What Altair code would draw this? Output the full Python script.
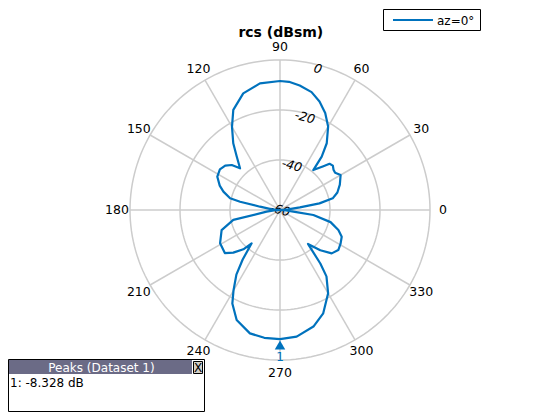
import math
import altair as alt
import pandas as pd

# ---- data ----
angle_deg = [0, 4, 7.5, 9.5, 12.5, 17, 23, 30, 34, 37, 40, 43, 45.5, 50.2, 52, 55, 60, 65, 70, 75, 81, 86, 90,
             99, 107.5, 115, 120, 125, 129, 133.8, 137, 141, 146, 152, 158, 162, 166.8, 168.3, 170.6, 175, 180,
             184, 187, 192, 199, 209, 218, 222.4, 227, 229.6, 233, 236, 240, 243, 248.5, 256.3, 263, 270,
             277.5, 286, 292.7, 300, 305, 307, 309.5, 315, 320, 325.5, 331, 336.6, 341, 346.5, 351.5, 353, 356, 360]
rcs_dbsm = [-60, -56.8, -52, -44, -38.4, -36, -34, -32, -33.4, -33.2, -32.4, -32.9, -35.6, -39.2, -32.9, -27.4,
            -21.5, -17.2, -13.8, -11.2, -9.6, -8.6, -8.4,
            -8.7, -11.1, -15.8, -21.6, -27.4, -32.5, -36.9, -33.6, -31.8, -31, -31.6, -34, -36.2, -39.5, -43.7,
            -51.9, -56.8, -60,
            -57.6, -54.6, -40.9, -35.3, -32.6, -32, -34.7, -38.5, -42.5, -35.2, -28.8, -22.8, -18, -12.7, -9.2,
            -8.5, -8.328,
            -8.9, -11.5, -15.2, -21.5, -27.6, -33.2, -42.4, -37.2, -33, -31.7, -32.3, -33.1, -35.3, -39.2, -46.5,
            -54.6, -57.6, -60]
ring_db = [0, -20, -40, -60]
spoke_deg = [0, 30, 60, 90, 120, 150, 180, 210, 240, 270, 300, 330]
series_name = "az=0°"
title_text = "rcs (dBsm)"
peaks_title = "Peaks (Dataset 1)"

# ---- layout ----
W, H = 544, 404
PX = 2.5            # pixels per dB
CX, CY = 272, 202   # polar centre in chart pixels
RMIN, RMAX = -60, 0
BLUE = "#0072BD"
GRID = "#cccccc"
FONT = "DejaVu Sans"

xs = alt.Scale(domain=[-CX / PX, (W - CX) / PX], nice=False, zero=False)
ys = alt.Scale(domain=[-(H - CY) / PX, CY / PX], nice=False, zero=False)

df = pd.DataFrame({"angle": angle_deg, "rcs": rcs_dbsm, "series": series_name})
rings_df = pd.DataFrame({"ring": ring_db})
spokes_df = pd.DataFrame({"a": spoke_deg, "lab": [str(a) for a in spoke_deg]})
one = pd.DataFrame({"k": [0]})

pk = max(range(len(rcs_dbsm)), key=lambda i: rcs_dbsm[i])
peak_df = pd.DataFrame({"angle": [angle_deg[pk]], "rcs": [rcs_dbsm[pk]]})
peak_text = f"1: {rcs_dbsm[pk]:.3f} dB"

X = lambda f: alt.X(f, scale=xs, axis=None)
Y = lambda f: alt.Y(f, scale=ys, axis=None)

rings = alt.Chart(rings_df).transform_calculate(
    u=f"datum.ring - ({RMIN})", a="sequence(0, 362, 2)"
).transform_filter("datum.u > 0").transform_flatten(["a"]).transform_calculate(
    x="datum.u*cos(datum.a*PI/180)", y="datum.u*sin(datum.a*PI/180)"
).mark_line(color=GRID, strokeWidth=1.5).encode(
    x=X("x:Q"), y=Y("y:Q"), order="a:Q", detail="ring:N"
)

spokes = alt.Chart(spokes_df).transform_calculate(
    x0="0", y0="0",
    x1=f"{RMAX - RMIN}*cos(datum.a*PI/180)", y1=f"{RMAX - RMIN}*sin(datum.a*PI/180)"
).mark_rule(color=GRID, strokeWidth=1.5).encode(
    x=X("x0:Q"), y=Y("y0:Q"), x2="x1:Q", y2="y1:Q"
)

spoke_labels = alt.Chart(spokes_df).transform_calculate(
    x=f"{(RMAX - RMIN) + 5.2}*cos(datum.a*PI/180)", y=f"{(RMAX - RMIN) + 5.2}*sin(datum.a*PI/180)"
).mark_text(font=FONT, fontSize=12.5, color="black", baseline="middle", align="center").encode(
    x=X("x:Q"), y=Y("y:Q"), text="lab:N"
)

ring_labels = alt.Chart(rings_df).transform_calculate(
    u=f"max(datum.ring - ({RMIN}) - 1.6, 0)",
    x="datum.u*cos(75*PI/180)", y="datum.u*sin(75*PI/180)", lab="toString(datum.ring)"
).mark_text(font=FONT, fontSize=12.5, fontStyle="italic", color="black", angle=15,
            baseline="middle", align="center").encode(
    x=X("x:Q"), y=Y("y:Q"), text="lab:N"
)

line = alt.Chart(df).transform_calculate(
    u=f"max(datum.rcs - ({RMIN}), 0)",
    x="datum.u*cos(datum.angle*PI/180)", y="datum.u*sin(datum.angle*PI/180)"
).mark_line(strokeWidth=2.2, color=BLUE, strokeJoin="round").encode(
    x=X("x:Q"), y=Y("y:Q"), order="angle:Q"
)

marker = alt.Chart(peak_df).transform_calculate(
    u=f"datum.rcs - ({RMIN}) + 2.3", x="datum.u*cos(datum.angle*PI/180)", y="datum.u*sin(datum.angle*PI/180)"
).mark_point(shape="triangle-up", filled=True, color=BLUE, size=110, opacity=1).encode(
    x=X("x:Q"), y=Y("y:Q")
)
marker_lab = alt.Chart(peak_df).transform_calculate(
    u=f"datum.rcs - ({RMIN}) + 7.2", x="datum.u*cos(datum.angle*PI/180)", y="datum.u*sin(datum.angle*PI/180)"
).mark_text(font=FONT, fontSize=12, color=BLUE, baseline="middle", align="center").encode(
    x=X("x:Q"), y=Y("y:Q"), text=alt.value("1")
)

title = alt.Chart(one).mark_text(font=FONT, fontSize=14, fontWeight="bold", color="black",
                                  baseline="middle", align="center").encode(
    x=alt.value(272.8), y=alt.value(25), text=alt.value(title_text))

# legend (top right)
leg_box = alt.Chart(one).mark_rect(fill="white", stroke="black", strokeWidth=1).encode(
    x=alt.value(375.5), x2=alt.value(472.5), y=alt.value(1.5), y2=alt.value(22.5))
leg_line = alt.Chart(df.head(1)).mark_rule(color=BLUE, strokeWidth=2).encode(
    x=alt.value(385), x2=alt.value(425), y=alt.value(12))
leg_text = alt.Chart(df.head(1)).mark_text(font=FONT, fontSize=12, color="black",
                                           baseline="middle", align="left").encode(
    x=alt.value(429), y=alt.value(12.5), text="series:N")

# peaks table (bottom left)
pk_box = alt.Chart(one).mark_rect(fill="white", stroke="black", strokeWidth=1).encode(
    x=alt.value(0.5), x2=alt.value(196.5), y=alt.value(351.5), y2=alt.value(403.5))
pk_head = alt.Chart(one).mark_rect(fill="#6b6b86").encode(
    x=alt.value(1), x2=alt.value(184), y=alt.value(352), y2=alt.value(366))
pk_btn = alt.Chart(one).mark_rect(fill="#d4d0c8", stroke="black", strokeWidth=1).encode(
    x=alt.value(185.5), x2=alt.value(194.5), y=alt.value(353.5), y2=alt.value(365.5))
pk_x = alt.Chart(one).mark_text(font=FONT, fontSize=12, color="black", baseline="middle",
                                align="center").encode(
    x=alt.value(190), y=alt.value(359.5), text=alt.value("X"))
pk_title = alt.Chart(one).mark_text(font=FONT, fontSize=12, color="white", baseline="middle",
                                    align="center").encode(
    x=alt.value(93.5), y=alt.value(359.5), text=alt.value(peaks_title))
pk_text = alt.Chart(one).mark_text(font=FONT, fontSize=12, color="black", baseline="middle",
                                   align="left").encode(
    x=alt.value(2), y=alt.value(375), text=alt.value(peak_text))

chart = alt.layer(
    rings, spokes, spoke_labels, ring_labels, line, marker, marker_lab, title,
    leg_box, leg_line, leg_text, pk_box, pk_head, pk_btn, pk_x, pk_title, pk_text
).properties(
    width=W, height=H, autosize=alt.AutoSizeParams(type="none"), padding=0
).configure_view(stroke=None)

chart.save("out.html", embed_options={"renderer": "svg", "actions": False})
